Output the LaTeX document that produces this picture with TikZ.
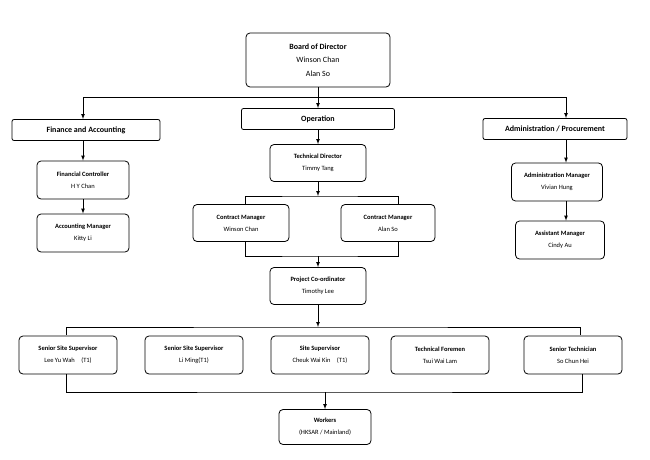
\documentclass[tikz,border=0pt]{standalone}
\usepackage{fontspec}
\setmainfont{Carlito}
\usetikzlibrary{positioning,arrows}
\tikzstyle{box} = [
    rectangle, rounded corners=4pt, draw, thick, align=center,
    inner sep=2pt, font=\fontsize{6.5}{12}\selectfont,
]
\tikzstyle{dept} = [
    box, rounded corners=2pt, minimum height=21pt,
    font=\fontsize{8}{9}\selectfont\bfseries,
]
\tikzstyle{staff} = [
    box, minimum height=38pt,
]
\tikzstyle{arrow} = [->,>=latex]

\begin{document}
\begin{tikzpicture}[x=1pt,y=-1pt,line width=0.7pt]
    \useasboundingbox (0,0) rectangle (650,460);
    % boxes
    \node (board) at (318,60) [box,minimum width=144pt,minimum height=54pt,
        font=\fontsize{8}{13.5}\selectfont] {\textbf{Board of Director}\\Winson Chan\\Alan So};
    \node (finance) at (86,130) [dept,minimum width=148pt] {Finance and Accounting};
    \node (operation) at (318,119) [dept,minimum width=153pt] {Operation};
    \node (admin) at (555,129) [dept,minimum width=144pt] {Administration / Procurement};

    \node (finctrl) at (83,180) [staff,minimum width=92pt] {\textbf{Financial Controller}\\H Y Chan};
    \node (acctmgr) at (83,233) [staff,minimum width=92pt] {\textbf{Accounting Manager}\\Kitty Li};
    \node (techdir) at (318,163) [staff,minimum width=96pt,minimum height=37pt] {\textbf{Technical Director}\\Timmy Tang};
    \node (contract1) at (241,223) [staff,minimum width=96pt,minimum height=37pt] {\textbf{Contract Manager}\\Winson Chan};
    \node (contract2) at (388,223) [staff,minimum width=94pt,minimum height=37pt] {\textbf{Contract Manager}\\Alan So};
    \node (coord) at (318,286) [staff,minimum width=96pt,minimum height=37pt] {\textbf{Project Co-ordinator}\\Timothy Lee};
    \node (adminmgr) at (557,182) [staff,minimum width=91pt] {\textbf{Administration Manager}\\Vivian Hung};
    \node (asstmgr) at (560,240) [staff,minimum width=89pt] {\textbf{Assistant Manager}\\Cindy Au};

    \foreach \name/\x/\title/\who in {sup1/68/Senior Site Supervisor/Lee Yu Wah\quad(T1),
        sup2/194/Senior Site Supervisor/Li Ming(T1),
        sup3/320/Site Supervisor/Cheuk Wai Kin\quad(T1),
        foremen/440/Technical Foremen/Tsui Wai Lam,
        technician/573/Senior Technician/So Chun Hei} {
        \node (\name) at (\x,355) [staff,minimum width=98pt] {\textbf{\title}\\\who};
    }
    \node (workers) at (325,427) [staff,minimum width=92pt,minimum height=35pt] {\textbf{Workers}\\(HKSAR / Mainland)};

    % arrows
    \coordinate (topbus) at (318,97);
    \coordinate (finx) at (83,0);
    \coordinate (admx) at (566,0);
    \draw (board.south) -- (topbus);
    \draw [arrow] (topbus) -- (operation.north);
    \draw [arrow] (topbus) -| (finance.north -| finx);
    \draw [arrow] (topbus) -| (admin.north -| admx);
    \draw [arrow] (finance.south -| finx) -- (finctrl.north);
    \draw [arrow] (finctrl) -- (acctmgr);
    \draw [arrow] (admin.south -| admx) -- (adminmgr.north -| admx);
    \draw [arrow] (adminmgr.south -| admx) -- (asstmgr.north -| admx);
    \draw [arrow] (operation) -- (techdir);

    \coordinate (cmtop) at (318,196);
    \coordinate (cmbot) at (318,256);
    \draw [arrow] (techdir.south) -- (cmtop);
    \draw (245,205) |- (cmtop) -| (398,205);
    \draw (245,242) |- (cmbot) -| (398,242);
    \draw [arrow] (cmbot) -- (coord.north);

    \coordinate (rowtop) at (318,327);
    \coordinate (rowbot) at (325,392);
    \draw [arrow] (coord.south) -- (rowtop);
    \draw (66,335) |- (rowtop) -| (580,335);
    \draw (66,374) |- (rowbot) -| (582,374);
    \draw [arrow] (rowbot) -- (workers.north);
\end{tikzpicture}
\end{document}
